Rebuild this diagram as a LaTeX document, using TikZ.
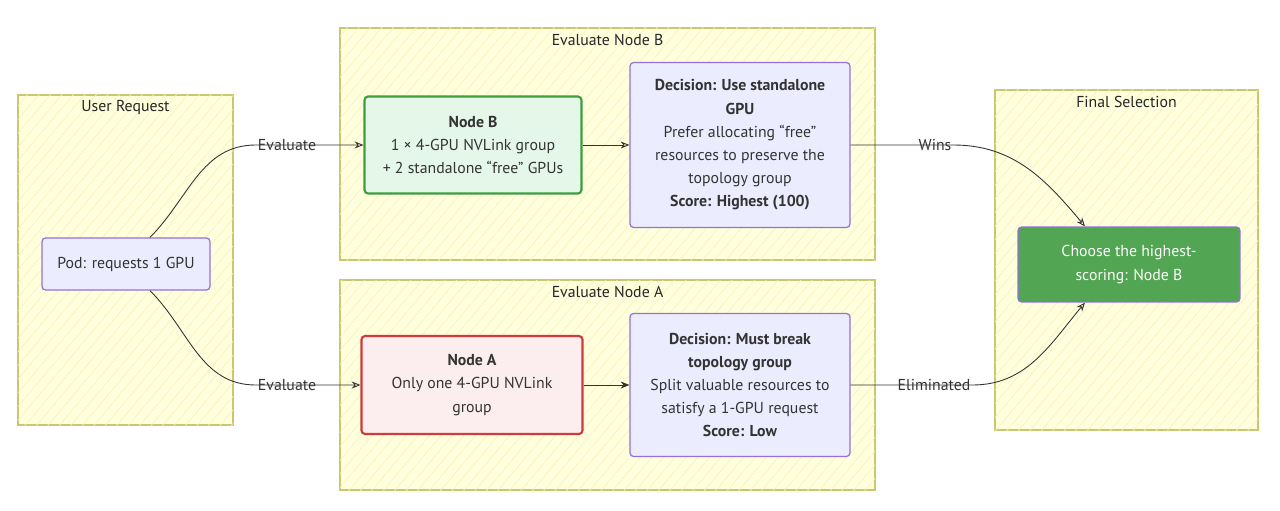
\documentclass[tikz,border=0pt]{standalone}
\usepackage{fontspec}
\setmainfont{PT Sans}
\usetikzlibrary{arrows.meta,patterns.meta}
\definecolor{clfill}{HTML}{FFFFDE}
\definecolor{cldraw}{HTML}{C8C870}
\definecolor{clhatch}{HTML}{F4F4B8}
\definecolor{ndfill}{HTML}{ECECFF}
\definecolor{nddraw}{HTML}{9370DB}
\definecolor{grfill}{HTML}{E4F7E8}
\definecolor{grdraw}{HTML}{3E9E3E}
\definecolor{rdfill}{HTML}{FCEEEE}
\definecolor{rddraw}{HTML}{D03A3A}
\definecolor{wnfill}{HTML}{52A552}
\definecolor{edge}{HTML}{333333}
\tikzset{
  cluster/.style={draw=cldraw,line width=.6pt,fill=clfill,
    postaction={pattern={Lines[angle=50,distance=5pt,line width=.35pt]},pattern color=clhatch}},
  cltitle/.style={font=\fontsize{9}{11}\selectfont,text=black!85},
  box/.style={draw=nddraw,fill=ndfill,rounded corners=2pt,line width=.7pt,align=center,
    font=\fontsize{9}{13.2}\selectfont,text=black!80,inner sep=0pt},
  flow/.style={draw=edge,line width=.5pt,-{Stealth[length=5pt,width=4pt,open]}},
  elabel/.style={font=\fontsize{9}{11}\selectfont,text=black!80,inner sep=1pt}
}
\begin{document}
\begin{tikzpicture}[x=0.02cm,y=-0.02cm]
\useasboundingbox (0,0) rectangle (1280,510);
% clusters
\draw[cluster] (18,95) rectangle (233,425);
\draw[cluster] (340,28) rectangle (875,260);
\draw[cluster] (340,280) rectangle (875,490);
\draw[cluster] (995,90) rectangle (1258,430);
\node[cltitle] (tuser) at (125.5,107) {User Request};
\node[cltitle] (tevb) at (607.5,40) {Evaluate Node B};
\node[cltitle] (teva) at (607.5,292) {Evaluate Node A};
\node[cltitle] (tfin) at (1126.5,102) {Final Selection};
% nodes
\node[box,minimum width=3.36cm,minimum height=1.04cm] (pod) at (126,264) {Pod: requests 1 GPU};
\node[box,draw=grdraw,fill=grfill,line width=1.2pt,minimum width=4.34cm,minimum height=1.94cm] (nodeB) at (473,145)
  {\textbf{Node B}\\1 × 4-GPU NVLink group\\+ 2 standalone “free” GPUs};
\node[box,minimum width=4.4cm,minimum height=3.3cm] (decB) at (740,145)
  {\textbf{Decision: Use standalone}\\\textbf{GPU}\\Prefer allocating “free”\\resources to preserve the\\topology group\\\textbf{Score: Highest (100)}};
\node[box,draw=rddraw,fill=rdfill,line width=1.2pt,minimum width=4.42cm,minimum height=1.96cm] (nodeA) at (472,385)
  {\textbf{Node A}\\Only one 4-GPU NVLink\\group};
\node[box,minimum width=4.4cm,minimum height=2.86cm] (decA) at (740,385)
  {\textbf{Decision: Must break}\\\textbf{topology group}\\Split valuable resources to\\satisfy a 1-GPU request\\\textbf{Score: Low}};
\node[box,fill=wnfill,text=white,minimum width=4.44cm,minimum height=1.5cm] (pick) at (1129,264.5)
  {Choose the highest-\\scoring: Node B};
% edge labels
\node[elabel] (evB) at (287,145) {Evaluate};
\node[elabel] (evA) at (287,385) {Evaluate};
\node[elabel] (wins) at (935,145) {Wins};
\node[elabel] (elim) at (934,385) {Eliminated};
% connectors
\draw[flow] ([xshift=.48cm]pod.north) to[out=45,in=180] (evB.west) -- (nodeB.west);
\draw[flow] ([xshift=.48cm]pod.south) to[out=-45,in=180] (evA.west) -- (nodeA.west);
\draw[flow] (nodeB.east) -- (decB.west);
\draw[draw=edge,line width=.5pt,-{Stealth[length=5pt,width=4pt]}] (nodeA.east) -- (decA.west);
\draw[flow] (decB.east) -- (wins.east) to[out=0,in=130] ([xshift=-.88cm]pick.north);
\draw[flow] (decA.east) -- (elim.east) to[out=0,in=-130] ([xshift=-.88cm]pick.south);
\end{tikzpicture}
\end{document}
